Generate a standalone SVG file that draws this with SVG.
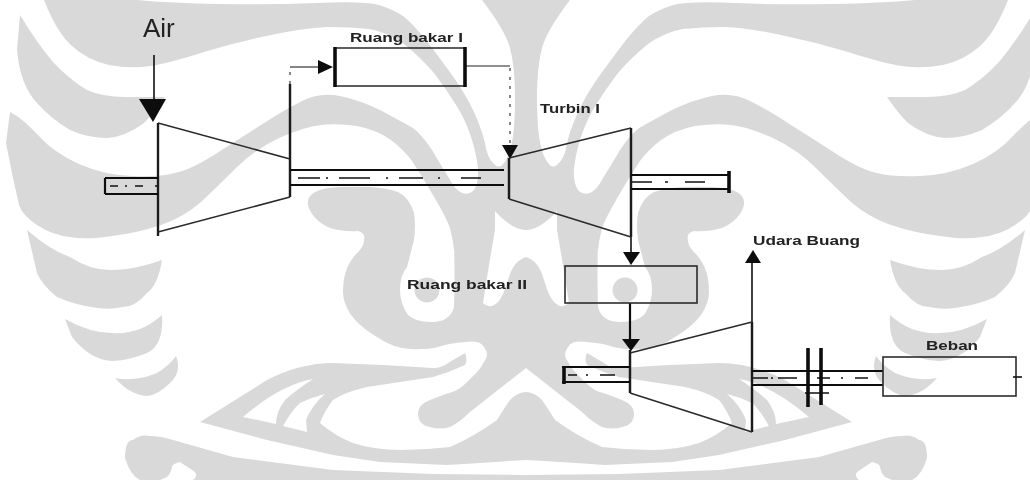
<svg xmlns="http://www.w3.org/2000/svg" xmlns:xlink="http://www.w3.org/1999/xlink" width="1030" height="480" viewBox="0 0 1030 480">
<style>
.wm{fill:#d9d9d9;fill-rule:evenodd}
.l{fill:none;stroke:#2a2a2a;stroke-width:1.6}
.t{fill:none;stroke:#1a1a1a;stroke-width:2.4}
.th{fill:none;stroke:#111;stroke-width:3.6}
.s{fill:none;stroke:#111;stroke-width:2.2}
.c{fill:none;stroke:#111;stroke-width:1.6}
.d{fill:none;stroke:#555;stroke-width:1.4;stroke-dasharray:3 6}
.h{fill:#111;stroke:none}
text{font-family:"Liberation Sans",Arial,sans-serif;fill:#222;font-size:13px;font-weight:bold;stroke:none}
.blur{filter:url(#soft)}
</style>
<defs>
<filter id="soft" x="-5%" y="-5%" width="110%" height="110%"><feGaussianBlur stdDeviation="0.55"/></filter>
<g id="wmUpper">
<path class="wm" d="M526,0 L570,0 Q547,30 542,48 Q537,67 537,97 Q537,127 540,142 Q543,157 548,163 Q553,170 559,163 Q565,157 567,143 Q570,130 578,112 Q587,93 600,75 Q613,57 626,40 Q640,23 649,16 Q658,10 673,5 Q688,1 735,3 Q782,5 832,4 Q882,3 915,0 L1008,0 Q995,33 980,46 Q965,60 943,65 Q922,69 902,66 Q882,63 848,52 Q815,42 781,35 Q748,28 725,27 Q702,27 683,29 Q665,32 648,44 Q632,57 618,73 Q605,90 594,108 Q583,127 578,147 Q573,167 574,177 Q575,187 579,191 Q583,195 590,193 Q597,190 603,178 Q610,167 620,150 Q630,135 639,128 Q648,123 670,111 Q692,100 712,96 Q732,92 750,101 Q768,110 791,125 Q815,140 838,155 Q862,170 877,173 Q892,177 920,176 Q948,175 973,164 Q998,153 1014,135 Q1030,118 1042,112 L1046,143 Q1040,175 1033,205 Q1030,215 1015,225 Q1000,235 982,237 Q965,240 940,236 Q915,233 891,225 Q868,217 851,202 Q835,187 816,168 Q798,150 773,138 Q748,127 731,125 Q715,123 695,126 Q675,130 661,140 Q648,150 640,161 Q632,173 619,195 Q606,217 602,228 Q599,240 598,250 L566,250 L558,210 Q540,230 526,230 Z"/>
</g>
<g id="wmLower">
<path class="wm" d="M20,15 Q37,43 53,62 Q70,80 87,90 Q103,97 125,97 L165,97 Q155,112 144,123 Q125,137 107,138 Q88,138 70,130 Q50,118 37,103 Q20,85 17,50 Z"/>
<path class="wm" d="M27,230 Q50,250 70,257 Q90,270 110,270 Q135,270 162,260 Q158,285 147,293 Q135,307 123,307 Q110,310 97,308 Q75,305 57,297 Q42,285 37,273 Z"/>
<path class="wm" d="M65,319 Q90,333 112,333 Q140,335 162,315 Q164,345 147,353 Q130,360 113,361 Q90,360 72,337 Z"/>
<path class="wm" d="M115,378 Q135,382 157,373 Q170,365 176,356 Q182,372 170,383 Q158,395 147,396 Q130,395 115,378 Z"/>
<path class="wm" d="M414,240 Q416,225 414,213 Q409,197 398,192 Q387,188 370,187 Q345,186 328,188 Q306,192 308,205 Q312,220 330,228 Q345,232 358,231 Q366,233 364,240 Q364,247 356,254 Q349,262 346,271 Q343,280 343,292 Q343,303 351,315 Q360,327 377,337 Q393,348 410,349 Q427,350 438,347 Q450,343 465,342 Q480,340 484,347 Q490,355 484,362 Q480,370 471,378 Q463,387 455,391 Q442,395 430,400 Q418,405 418,413 Q418,425 430,427 Q440,430 450,427 Q460,422 470,412 L526,368 L526,257 Q513,261 508,280 Q503,297 498,302 Q490,310 483,303 Q488,270 495,230 L495,205 L452,205 L454,240 Q455,280 454,307 Q450,322 432,322 Q410,322 405,310 Q400,300 400,290 Q400,275 407,267 Z"/>
<circle class="wm" cx="427" cy="290" r="12.5"/>
<path class="wm" d="M200,422 Q235,400 267,380 Q300,363 333,363 L383,365 L433,368 Q442,368 448,363 L465,353 Q468,360 465,365 Q450,372 433,377 L367,387 Q345,392 333,400 Q325,410 320,423 Q335,436 353,443 Q375,450 400,450 Q425,450 450,447 Q475,436 497,420 Q503,410 510,400 Q518,392 526,392 L526,460 Q490,462 447,465 L380,462 L333,455 L267,440 Z M243,417 Q280,385 313,379 Q296,390 285,400 Q276,412 276,424 Z M283,426 Q292,410 300,403 Q312,397 325,394 Q312,405 306,420 L307,432 Z"/>
<path class="wm" d="M125,458 Q125,440 133,440 Q140,434 150,436 Q160,436 173,440 L233,457 L333,470 L433,474 L526,475 L526,480 L193,480 Q198,476 195,472 L180,462 Q172,464 172,467 Q171,473 167,477 L160,480 L140,480 Q130,475 125,458 Z"/>
</g>
</defs>

<g id="watermark">
<use xlink:href="#wmUpper" href="#wmUpper"/>
<use xlink:href="#wmUpper" href="#wmUpper" transform="matrix(-1 0 0 1 1052 0)"/>
<use xlink:href="#wmLower" href="#wmLower"/>
<use xlink:href="#wmLower" href="#wmLower" transform="matrix(-1 0 0 1 1052 0)"/>
</g>

<g class="blur">
<g id="connectors">
<path class="c" d="M154,55V100"/>
<polygon class="h" points="139,99 166,99 153,122"/>
<path class="d" d="M290,84V67"/>
<path class="l" d="M290,67H320" stroke-opacity="0.7"/>
<polygon class="h" points="318,60 333,67 318,74"/>
<path class="l" d="M466,66H510" stroke-opacity="0.7"/>
<path class="d" d="M510,68V146"/>
<polygon class="h" points="502,145 518,145 510,159"/>
<path class="c" d="M631,237V254"/>
<polygon class="h" points="623,252 640,252 631,265"/>
<path class="s" d="M630,303V341"/>
<polygon class="h" points="622,339 640,339 631,351"/>
<path class="c" d="M752,322V260"/>
<polygon class="h" points="745,263 761,263 753,250"/>
</g>

<g id="compressor">
<path class="t" d="M158,123V236"/>
<path class="t" d="M290,84V197"/>
<path class="l" d="M158,123L290,159M158,232L290,197"/>
<path class="s" d="M105,178H158M105,194H158"/>
<path class="s" d="M105,178V194"/>
<path class="c" d="M110,186H118M125,186H127M135,186H143M155,186H157"/>
</g>

<g id="shaft-1">
<path class="s" d="M290,170H504M290,185H504"/>
<path class="c" d="M298,178H320M326,178H328M339,178H370M386,178H388M399,178H423M438,178H440M461,178H481"/>
</g>

<g id="combustor-1">
<text x="350" y="42" textLength="113" lengthAdjust="spacingAndGlyphs">Ruang bakar I</text>
<path class="l" d="M335,48H465M335,86H465"/>
<path class="th" d="M335,47V87M465,47V87"/>
</g>

<g id="turbine-1">
<text x="540" y="113" textLength="60" lengthAdjust="spacingAndGlyphs">Turbin I</text>
<path class="t" d="M509,158V199M631,128V237"/>
<path class="l" d="M509,158L631,128M509,199L631,237"/>
<path class="s" d="M631,175H728M631,189H728"/>
<path class="th" d="M729,171V193"/>
<path class="c" d="M632,182H652M665,182H668M685,182H705"/>
</g>

<g id="combustor-2">
<text x="407" y="289" textLength="120" lengthAdjust="spacingAndGlyphs">Ruang bakar II</text>
<rect class="l" x="565" y="266" width="132" height="37"/>
</g>

<g id="turbine-2">
<text x="753" y="245" textLength="107" lengthAdjust="spacingAndGlyphs">Udara Buang</text>
<path class="t" d="M630,350V393M752,322V432"/>
<path class="l" d="M630,353L752,322M630,393L752,432"/>
<path class="s" d="M562,367H630M562,382H630"/>
<path class="th" d="M564,366V384"/>
<path class="c" d="M568,375H577M586,375H588M600,375H615"/>
<path class="s" d="M752,371H883M752,385H883"/>
<path class="c" d="M753,378H768M771,378H773M778,378H797M817,378H830M841,378H843M855,378H868M805,393H829"/>
</g>

<g id="coupling">
<path class="th" d="M808,348V407M821,348V405"/>
</g>

<g id="load">
<text x="926" y="350" textLength="52" lengthAdjust="spacingAndGlyphs">Beban</text>
<rect class="l" x="883" y="357" width="133" height="39"/>
<path class="c" d="M1013,377H1022"/>
</g>

<g id="air">
<text x="143" y="37" style="font-size:26px;font-weight:normal">Air</text>
</g>
</g>
</svg>
